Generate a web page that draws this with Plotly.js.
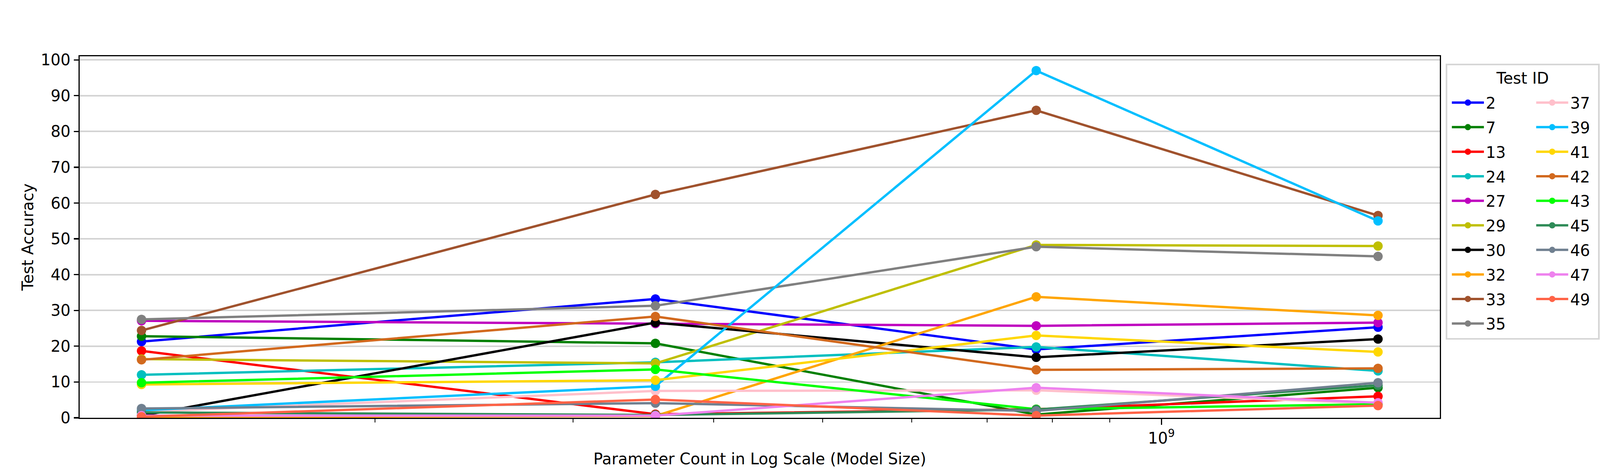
<!DOCTYPE html>
<html>
<head>
<meta charset="utf-8">
<script src="https://cdn.plot.ly/plotly-3.0.1.min.js"></script>
<style>
  html, body { margin: 0; padding: 0; background: #fff; overflow: hidden; }
</style>
</head>
<body>
<div id="chart"></div>
<script>
// GPT-2 sizes: 124M, 355M, 774M, 1.5B
const paramCounts = [124e6, 355e6, 774e6, 1558e6];

const testIds = ["2", "7", "13", "24", "27", "29", "30", "32", "33", "35",
  "37", "39", "41", "42", "43", "45", "46", "47", "49"];

const testColors = ["#0000ff", "#008000", "#ff0000", "#00bfbf", "#bf00bf", "#bfbf00", "#000000",
  "#ffa500", "#a0522d", "#808080", "#ffc0cb", "#00bfff", "#ffd700", "#d2691e", "#00ff00",
  "#2e8b57", "#708090", "#ee82ee", "#ff6347"];

const acc2 = [21.3, 33.2, 19.1, 25.3];
const acc7 = [22.8, 20.8, 0.9, 8.4];
const acc13 = [18.7, 1.0, 2.4, 6.0];
const acc24 = [12.0, 15.5, 19.8, 13.1];
const acc27 = [27.1, 26.3, 25.7, 26.6];
const acc29 = [16.4, 15.2, 48.3, 48.0];
const acc30 = [0.6, 26.6, 16.9, 22.0];
const acc32 = [0.2, 0.5, 33.8, 28.6];
const acc33 = [24.4, 62.4, 85.9, 56.5];
const acc35 = [27.5, 31.3, 47.8, 45.1];
const acc37 = [1.7, 7.5, 7.7, 4.0];
const acc39 = [2.1, 8.8, 97.0, 55.0];
const acc41 = [9.3, 10.5, 23.0, 18.4];
const acc42 = [16.2, 28.3, 13.4, 13.8];
const acc43 = [9.8, 13.5, 2.4, 3.8];
const acc45 = [1.5, 0.8, 2.3, 9.1];
const acc46 = [2.6, 4.1, 1.9, 9.8];
const acc47 = [0.6, 0.6, 8.4, 4.2];
const acc49 = [0.3, 5.1, 0.6, 3.4];

const accuracies = [acc2, acc7, acc13, acc24, acc27, acc29, acc30, acc32, acc33, acc35,
  acc37, acc39, acc41, acc42, acc43, acc45, acc46, acc47, acc49];

const yTicks = [0, 10, 20, 30, 40, 50, 60, 70, 80, 90, 100];
const xMajorTicks = [1e9];
const xMajorLabels = ["10<sup>9</sup>"];
const xMinorTicks = [2e8, 3e8, 4e8, 5e8, 6e8, 7e8, 8e8, 9e8];

const FONT = "DejaVu Sans, Liberation Sans, sans-serif";
const FS = 40;
const ROWS = 10; // entries in the first legend column

// the figure was 4800x1200; the window may be smaller, so scale the pixel sizes
const W = window.innerWidth || 4800;
const H = window.innerHeight || 1200;
const sx = W / 4800;
const sy = H / 1200;

const chartEl = document.getElementById("chart");
chartEl.style.width = `${W}px`;
chartEl.style.height = `${H}px`;

// matplotlib-like 5% margin in log space
const logMin = Math.log10(Math.min(...paramCounts));
const logMax = Math.log10(Math.max(...paramCounts));
const pad = (logMax - logMin) * 0.05;

const traces = testIds.map((id, i) => ({
  type: "scatter",
  mode: "lines+markers",
  name: id,
  x: paramCounts,
  y: accuracies[i],
  line: { color: testColors[i], width: 6 },
  marker: { color: testColors[i], size: 24 },
  legend: i < ROWS ? "legend" : "legend2",
  legendgroup: `g${id}`,
  hovertemplate: `Test ${id}<br>%{x:.3s}: %{y:.1f}<extra></extra>`,
}));

function legendCfg(x) {
  return {
    x,
    y: 0.907,
    xanchor: "left",
    yanchor: "top",
    xref: "paper",
    yref: "paper",
    bgcolor: "rgba(0,0,0,0)",
    borderwidth: 0,
    font: { family: FONT, size: FS, color: "#000" },
    itemwidth: Math.round(82 * sx / 0.8533),
    tracegroupgap: 7.8 * sy,
    itemclick: false,
    itemdoubleclick: false,
  };
}

const layout = {
  width: W,
  height: H,
  margin: { l: 239 * sx, r: 480 * sx, t: 144 * sy, b: 131 * sy, pad: 0 },
  paper_bgcolor: "#fff",
  plot_bgcolor: "#fff",
  font: { family: FONT, size: FS, color: "#000" },
  showlegend: true,
  legend: legendCfg(1.0074),
  legend2: legendCfg(1.0694),
  xaxis: {
    type: "log",
    range: [logMin - pad, logMax + pad],
    autorange: false,
    tickmode: "array",
    tickvals: xMajorTicks,
    ticktext: xMajorLabels,
    ticks: "outside",
    ticklen: 14.6 * sy,
    tickwidth: 3,
    tickcolor: "#000",
    minor: { tickmode: "array", tickvals: xMinorTicks, ticks: "outside", ticklen: 8.3 * sy, tickwidth: 2.2, tickcolor: "#000", showgrid: false },
    showgrid: false,
    zeroline: false,
    showline: true,
    mirror: true,
    linecolor: "#000",
    linewidth: 3.3,
    tickfont: { family: FONT, size: FS },
    title: { text: "Parameter Count in Log Scale (Model Size)", font: { family: FONT, size: FS }, standoff: 18 * sy },
  },
  yaxis: {
    range: [0, 101],
    autorange: false,
    tickmode: "array",
    tickvals: yTicks,
    ticks: "outside",
    ticklen: 14.6 * sx,
    tickwidth: 3.3,
    tickcolor: "#000",
    showgrid: true,
    gridcolor: "#d3d3d3",
    gridwidth: 3.8,
    zeroline: false,
    showline: true,
    mirror: true,
    linecolor: "#000",
    linewidth: 3,
    tickfont: { family: FONT, size: FS },
    title: { text: "Test Accuracy", font: { family: FONT, size: FS }, standoff: 8 * sx },
  },
  shapes: [
    {
      type: "rect",
      xref: "paper",
      yref: "paper",
      x0: 1.0049,
      x1: 1.1169,
      y0: 0.2184,
      y1: 0.9773,
      line: { color: "#d6d6d6", width: 4.2 },
      fillcolor: "rgba(0,0,0,0)",
      layer: "above",
    },
  ],
  annotations: [
    {
      text: "Test ID",
      xref: "paper",
      yref: "paper",
      x: 1.0608,
      y: 0.9395,
      xanchor: "center",
      yanchor: "middle",
      showarrow: false,
      font: { family: FONT, size: FS, color: "#000" },
    },
  ],
};

Plotly.newPlot(chartEl, traces, layout, { displayModeBar: false, responsive: false, staticPlot: true });
</script>
</body>
</html>
